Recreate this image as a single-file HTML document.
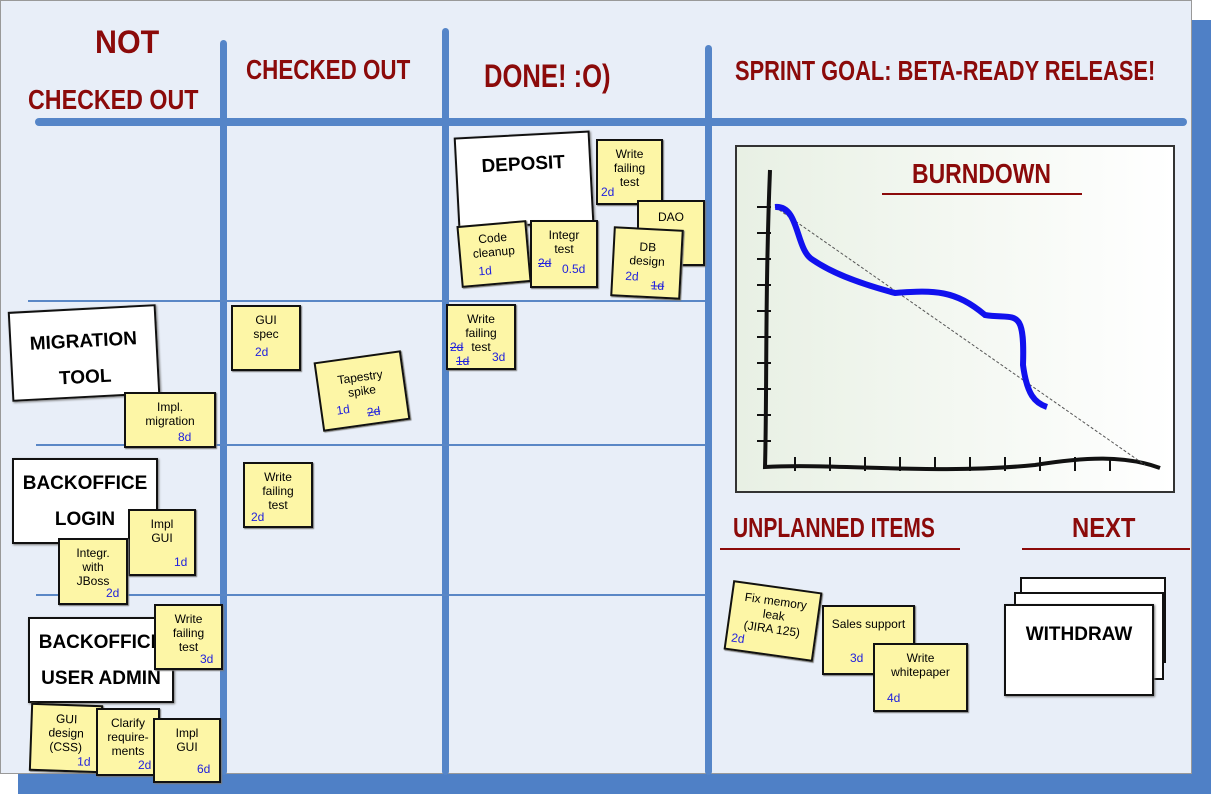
<!DOCTYPE html>
<html><head><style>
body{margin:0;width:1211px;height:794px;overflow:hidden;background:#fff;font-family:"Liberation Sans",sans-serif;position:relative}
.a{position:absolute}
.sh{left:18px;top:20px;width:1193px;height:774px;background:#4f80c6}
.bd{left:0;top:0;width:1192px;height:774px;background:#e8eef8;border:1px solid #999;box-sizing:border-box}
.v{background:#5585c8;width:7px;border-radius:4px}
.h{background:#5585c8;height:8px;border-radius:4px}
.t{background:#5a87c6;height:2px}
.hd{color:#8b0a0a;font-weight:bold;text-transform:uppercase;font-size:28px;white-space:nowrap;transform-origin:left top}
.s{background:#fdf6a6;border:2px solid #111;box-sizing:border-box;font-size:12px;text-align:center;line-height:14px;padding-top:6px;box-shadow:1px 1px 1px #777}
.s i{color:#2222dd;font-style:normal;position:absolute}
.c{background:#fff;border:2px solid #111;box-sizing:border-box;font-weight:bold;text-transform:uppercase;font-size:19px;text-align:center;box-shadow:1px 1px 2px #777;white-space:nowrap}
</style></head><body>
<div class="a sh"></div>
<div class="a bd"></div>
<div class="a v" style="left:220px;top:40px;height:735px"></div>
<div class="a v" style="left:442px;top:28px;height:747px"></div>
<div class="a v" style="left:705px;top:45px;height:730px"></div>
<div class="a h" style="left:35px;top:118px;width:1152px"></div>
<div class="a t" style="left:28px;top:300px;width:677px"></div>
<div class="a t" style="left:36px;top:444px;width:670px"></div>
<div class="a t" style="left:36px;top:594px;width:670px"></div>
<div class="a hd" style="left:95px;top:24px;font-size:32px;transform:scaleX(.95)">Not</div>
<div class="a hd" style="left:28px;top:84px;transform:scaleX(.83)">checked out</div>
<div class="a hd" style="left:246px;top:54px;transform:scaleX(.8)">checked out</div>
<div class="a hd" style="left:484px;top:58px;font-size:32px;transform:scaleX(.8)">Done! :o)</div>
<div class="a hd" style="left:735px;top:55px;transform:scaleX(.78)">Sprint goal: Beta-ready release!</div>
<div class="a" style="left:735px;top:145px;width:440px;height:348px;border:2px solid #333;box-sizing:border-box;background:linear-gradient(90deg,#e8f0e4,#fff)"></div>
<div class="a hd" style="left:912px;top:158px;transform:scaleX(.82)">Burndown</div>
<div class="a" style="left:882px;top:193px;width:200px;height:2px;background:#8b0a0a"></div>
<div class="a hd" style="left:733px;top:512px;transform:scaleX(.75)">Unplanned items</div>
<div class="a" style="left:720px;top:548px;width:240px;height:2px;background:#8b0a0a"></div>
<div class="a hd" style="left:1072px;top:512px;transform:scaleX(.85)">Next</div>
<div class="a" style="left:1022px;top:548px;width:168px;height:2px;background:#8b0a0a"></div>
<svg class="a" style="left:735px;top:145px" width="440" height="348">
<path d="M35 25 C30 150 32 250 30 322 C100 318 200 330 300 320 C350 312 390 310 425 323" stroke="#111" stroke-width="4" fill="none"/>
<g stroke="#111" stroke-width="2"><path d="M22 62h14M22 88h14M22 114h14M22 140h14M22 166h14M22 192h14M22 218h14M22 244h14M22 270h14M22 296h14M60 312v14M95 312v14M130 312v14M165 312v14M200 312v14M235 312v14M270 312v14M305 312v14M340 312v14M375 312v14"/></g>
<path d="M40 62 L410 320" stroke="#555" stroke-dasharray="3,2" fill="none"/>
<path d="M40 62 C65 60 60 105 78 115 C100 130 130 140 160 148 C200 145 220 145 250 170 C280 175 290 160 288 220 C292 250 300 258 312 262" stroke="#1111ee" stroke-width="6" fill="none"/>
</svg>
<div class="a c" style="left:456px;top:134px;width:136px;height:92px;transform:rotate(-3deg);padding-top:18px">Deposit</div>
<div class="a s" style="left:596px;top:139px;width:67px;height:66px">Write<br>failing<br>test<i style="left:3px;top:44px">2d</i></div>
<div class="a s" style="left:637px;top:200px;width:68px;height:66px;padding-top:8px">DAO</div>
<div class="a s" style="left:459px;top:223px;width:70px;height:62px;transform:rotate(-5deg)">Code<br>cleanup<i style="left:16px;top:38px">1d</i></div>
<div class="a s" style="left:530px;top:220px;width:68px;height:68px">Integr<br>test<i style="left:6px;top:34px;text-decoration:line-through">2d</i><i style="left:30px;top:40px">0.5d</i></div>
<div class="a s" style="left:612px;top:228px;width:70px;height:70px;transform:rotate(3deg);padding-top:10px">DB<br>design<i style="left:12px;top:40px">2d</i><i style="left:38px;top:48px;text-decoration:line-through">1d</i></div>
<div class="a s" style="left:446px;top:304px;width:70px;height:66px">Write<br>failing<br>test<i style="left:2px;top:34px;text-decoration:line-through">2d</i><i style="left:8px;top:48px;text-decoration:line-through">1d</i><i style="left:44px;top:44px">3d</i></div>
<div class="a c" style="left:10px;top:308px;width:148px;height:90px;transform:rotate(-3deg);padding-top:14px;line-height:36px">Migration<br>tool</div>
<div class="a s" style="left:124px;top:392px;width:92px;height:56px">Impl.<br>migration<i style="left:52px;top:36px">8d</i></div>
<div class="a s" style="left:231px;top:305px;width:70px;height:66px">GUI<br>spec<i style="left:22px;top:38px">2d</i></div>
<div class="a s" style="left:318px;top:356px;width:88px;height:70px;transform:rotate(-8deg);padding-top:12px">Tapestry<br>spike<i style="left:14px;top:42px">1d</i><i style="left:44px;top:48px;text-decoration:line-through">2d</i></div>
<div class="a c" style="left:12px;top:458px;width:146px;height:86px;line-height:36px;padding-top:6px">Backoffice<br>Login</div>
<div class="a s" style="left:128px;top:509px;width:68px;height:67px">Impl<br>GUI<i style="left:44px;top:44px">1d</i></div>
<div class="a s" style="left:58px;top:538px;width:70px;height:67px">Integr.<br>with<br>JBoss<i style="left:46px;top:46px">2d</i></div>
<div class="a s" style="left:243px;top:462px;width:70px;height:66px">Write<br>failing<br>test<i style="left:6px;top:46px">2d</i></div>
<div class="a c" style="left:28px;top:617px;width:146px;height:86px;line-height:36px;padding-top:6px">Backoffice<br>User admin</div>
<div class="a s" style="left:154px;top:604px;width:69px;height:66px">Write<br>failing<br>test<i style="left:44px;top:46px">3d</i></div>
<div class="a s" style="left:30px;top:704px;width:72px;height:68px;transform:rotate(2deg)">GUI<br>design<br>(CSS)<i style="left:46px;top:48px">1d</i></div>
<div class="a s" style="left:96px;top:708px;width:64px;height:68px">Clarify<br>require-<br>ments<i style="left:40px;top:48px">2d</i></div>
<div class="a s" style="left:153px;top:718px;width:68px;height:65px">Impl<br>GUI<i style="left:42px;top:42px">6d</i></div>
<div class="a s" style="left:728px;top:586px;width:90px;height:70px;transform:rotate(8deg)">Fix memory<br>leak<br>(JIRA 125)<i style="left:4px;top:48px">2d</i></div>
<div class="a s" style="left:822px;top:605px;width:93px;height:70px;padding-top:10px">Sales support<i style="left:26px;top:44px">3d</i></div>
<div class="a s" style="left:873px;top:643px;width:95px;height:69px">Write<br>whitepaper<i style="left:12px;top:46px">4d</i></div>
<div class="a c" style="left:1020px;top:577px;width:146px;height:86px;box-shadow:none"></div>
<div class="a c" style="left:1014px;top:592px;width:150px;height:88px;box-shadow:none"></div>
<div class="a c" style="left:1004px;top:604px;width:150px;height:92px;padding-top:18px">Withdraw</div>
</body></html>
